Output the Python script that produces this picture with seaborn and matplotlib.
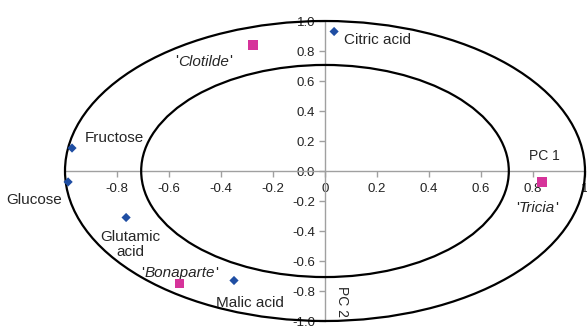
import matplotlib
matplotlib.use('Agg')
import matplotlib.pyplot as plt
import seaborn as sns
from matplotlib.patches import Ellipse
from matplotlib.ticker import FuncFormatter

# variables (blue diamonds)
variables = ['Citric acid', 'Fructose', 'Glucose', 'Glutamic\nacid', 'Malic acid']
var_pc1 = [0.035, -0.973, -0.988, -0.765, -0.35]
var_pc2 = [0.93, 0.153, -0.073, -0.31, -0.73]

# cultivars (pink squares)
cultivares = ['Clotilde', 'Bonaparte', 'Tricia']
cult_pc1 = [-0.277, -0.56, 0.835]
cult_pc2 = [0.84, -0.75, -0.073]

radios = [1.0, 0.707]

sns.set_style('white')
plt.rcParams['font.family'] = ['Liberation Sans', 'DejaVu Sans']

fig = plt.figure(figsize=(5.87, 3.26), dpi=100)
ax = fig.add_axes([65/587, 5/326, 520/587, 300/326])

sns.scatterplot(x=var_pc1, y=var_pc2, marker='D', color='#1f4ea3', s=22,
                edgecolor='none', ax=ax, zorder=4, clip_on=False)
sns.scatterplot(x=cult_pc1, y=cult_pc2, marker='s', color='#d6339a', s=45,
                edgecolor='none', ax=ax, zorder=4, clip_on=False)

# circulos de correlacion
for r in radios:
    ax.add_patch(Ellipse((0, 0), 2*r, 2*r, fill=False, edgecolor='black',
                         linewidth=1.6, zorder=3, clip_on=False))

ax.set_xlim(-1, 1)
ax.set_ylim(-1, 1)

# ejes cruzando en el origen
for lado in ['top', 'right']:
    ax.spines[lado].set_visible(False)
ax.spines['left'].set_position(('data', 0))
ax.spines['bottom'].set_position(('data', 0))
for lado in ['left', 'bottom']:
    ax.spines[lado].set_color('#a0a0a0')
    ax.spines[lado].set_linewidth(1.0)

yticks = [-1.0, -0.8, -0.6, -0.4, -0.2, 0.0, 0.2, 0.4, 0.6, 0.8, 1.0]
xticks = [-0.8, -0.6, -0.4, -0.2, 0.0, 0.2, 0.4, 0.6, 0.8, 1.0]
ax.set_yticks(yticks)
ax.set_xticks(xticks)
ax.yaxis.set_major_formatter(FuncFormatter(lambda v, p: f'{v:.1f}'))
ax.xaxis.set_major_formatter(FuncFormatter(lambda v, p: f'{v:g}'))
ax.tick_params(axis='both', direction='out', length=4, width=1, color='#a0a0a0',
               labelsize=9.5, labelcolor='#222222', left=True, bottom=True)
ax.tick_params(axis='x', pad=5)
ax.tick_params(axis='y', pad=3)

fs = 11
ax.text(0.075, 0.87, 'Citric acid', fontsize=fs, va='center', ha='left')
ax.text(-0.925, 0.22, 'Fructose', fontsize=fs, va='center', ha='left')
ax.text(-1.01, -0.19, 'Glucose', fontsize=fs, va='center', ha='right')
ax.text(-0.75, -0.49, 'Glutamic\nacid', fontsize=fs, va='center', ha='center',
        linespacing=1.05)
ax.text(-0.29, -0.88, 'Malic acid', fontsize=fs, va='center', ha='center')

# nombres de cultivares en cursiva
def cultivar(x, y, nombre):
    ax.annotate("'", (x, y), fontsize=fs, va='center', ha='right',
                xytext=(-textw(nombre)/2, 0), textcoords='offset points')
    ax.text(x, y, nombre, fontsize=fs, style='italic', va='center', ha='center')
    ax.annotate("'", (x, y), fontsize=fs, va='center', ha='left',
                xytext=(textw(nombre)/2, 0), textcoords='offset points')

def textw(nombre):
    t = ax.text(0, 0, nombre, fontsize=fs, style='italic')
    fig.canvas.draw()
    w = t.get_window_extent().width * 72 / fig.dpi
    t.remove()
    return w

cultivar(-0.468, 0.73, 'Clotilde')
cultivar(-0.56, -0.68, 'Bonaparte')
cultivar(0.815, -0.245, 'Tricia')

ax.text(0.845, 0.1, 'PC 1', fontsize=10, va='center', ha='center')
ax.text(0.065, -0.87, 'PC 2', fontsize=10, va='center', ha='center', rotation=-90)

plt.savefig('out.png', dpi=100)
